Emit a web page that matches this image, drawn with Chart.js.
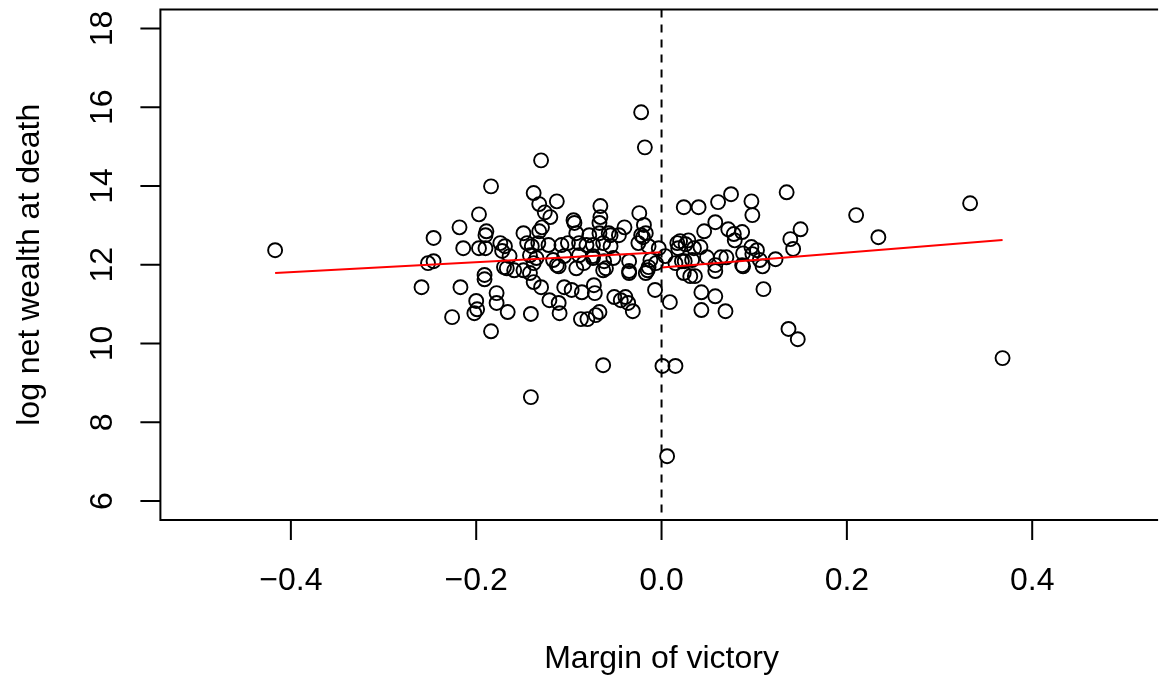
<!DOCTYPE html>
<html lang="en">
<head>
    <meta charset="UTF-8">
    <title>Margin of victory vs log net wealth at death</title>
    <script src="https://cdn.jsdelivr.net/npm/chart.js"></script>
    <style>
        html, body { margin: 0; padding: 0; overflow: hidden; background: #fff; }
        canvas { display: block; }
    </style>
</head>
<body>
    <canvas id="rdPlot" width="1165" height="675" style="width:1165px;height:675px"></canvas>

    <script>
        // scatter points (margin of victory, log net wealth at death)
        const marginX = [
            -0.417, 0.368, 0.333, 0.210, 0.234, -0.022, -0.018, -0.130, -0.184, -0.141,
            0.006, -0.063, 0.001, 0.015, 0.137, 0.147, -0.252, -0.246, -0.259, -0.217,
            -0.191, -0.191, -0.200, -0.199, -0.202, -0.178, -0.178, -0.166, -0.226, -0.184,
            -0.141, -0.197, -0.218, -0.189, -0.246, -0.214, -0.197, -0.190, -0.138, -0.132,
            -0.113, -0.126, -0.120, -0.129, -0.095, -0.094, -0.066, -0.066, -0.067, -0.024,
            -0.019, -0.040, -0.020, -0.055, 0.024, 0.040, 0.061, 0.075, 0.097, 0.098,
            0.135, 0.150, 0.139, 0.142, 0.058, 0.046, 0.072, 0.078, 0.087, 0.079,
            0.017, 0.026, 0.018, 0.035, 0.042, 0.049, 0.064, 0.070, 0.088, 0.097,
            0.103, 0.098, 0.106, 0.123, 0.087, 0.058, 0.025, -0.007, 0.009, 0.043,
            0.058, 0.043, 0.069, 0.110, 0.031, 0.036, 0.058, 0.088, 0.109, -0.014,
            0.015, -0.138, -0.130, -0.121, -0.111, -0.110, -0.105, -0.097, -0.086, -0.073,
            -0.072, -0.087, -0.080, -0.071, -0.067, -0.051, -0.044, -0.039, -0.036, -0.031,
            -0.138, -0.113, -0.084, -0.060, -0.035, -0.017, -0.170, -0.159, -0.149, -0.142,
            -0.190, -0.149, -0.132, -0.092, -0.078, -0.174, -0.169, -0.172, -0.145, -0.140,
            -0.133, -0.122, -0.108, -0.101, -0.089, -0.081, -0.164, -0.142, -0.135, -0.117,
            -0.105, -0.089, -0.074, -0.167, -0.111, -0.092, -0.067, -0.057, -0.046, -0.022,
            -0.017, 0.020, 0.029, -0.074, -0.063, -0.055, -0.025, -0.014, -0.003, -0.074,
            -0.062, -0.052, -0.035, -0.012, -0.006, 0.004, 0.022, 0.033, -0.063, -0.035,
            -0.015, 0.024
        ];
        const wealthY = [
            12.37, 9.63, 13.56, 13.26, 12.70, 15.87, 14.98, 14.65, 13.99, 8.64,
            7.14, 9.45, 9.43, 9.43, 10.37, 10.11, 12.04, 12.09, 11.43, 11.43,
            11.74, 11.63, 11.08, 10.87, 10.77, 11.28, 11.03, 10.80, 10.67, 10.31,
            10.75, 13.28, 12.95, 12.85, 12.68, 12.42, 12.42, 12.42, 13.82, 13.54,
            13.61, 13.33, 13.21, 12.95, 13.13, 13.06, 13.49, 13.21, 13.06, 13.31,
            13.01, 12.95, 12.70, 12.75, 13.46, 13.46, 13.59, 13.79, 13.61, 13.26,
            13.84, 12.90, 12.65, 12.40, 13.08, 12.85, 12.90, 12.78, 12.83, 12.62,
            12.55, 12.52, 12.42, 12.42, 12.45, 12.19, 12.19, 12.19, 12.29, 12.45,
            12.37, 12.27, 12.12, 12.14, 11.99, 11.99, 12.09, 11.36, 11.05, 11.30,
            11.20, 10.85, 10.82, 11.38, 11.71, 11.71, 11.84, 11.96, 11.96, 11.94,
            12.04, 11.56, 11.43, 11.10, 11.03, 10.77, 11.43, 11.36, 11.30, 11.48,
            11.28, 10.62, 10.62, 10.72, 10.80, 11.18, 11.10, 11.18, 11.03, 10.82,
            12.04, 11.99, 12.04, 11.91, 11.79, 11.79, 11.94, 11.86, 11.86, 11.79,
            12.75, 12.80, 12.85, 12.80, 12.75, 12.55, 12.47, 12.35, 12.55, 12.47,
            12.55, 12.50, 12.50, 12.55, 12.55, 12.50, 12.22, 12.24, 12.17, 12.12,
            12.22, 12.24, 12.22, 11.91, 11.96, 11.91, 12.80, 12.80, 12.75, 12.75,
            12.80, 12.60, 12.62, 12.50, 12.55, 12.47, 12.55, 12.47, 12.42, 12.17,
            12.09, 12.17, 12.09, 12.12, 12.04, 12.22, 12.09, 12.12, 11.86, 11.84,
            11.86, 11.79
        ];

        // linear fits on each side of the cutoff
        const leftFitX = [-0.417, 0];
        const leftFitY = [11.79, 12.32];
        const rightFitX = [0, 0.368];
        const rightFitY = [11.93, 12.63];

        // axis ticks
        const xTicks = [-0.4, -0.2, 0.0, 0.2, 0.4];
        const xTickLabels = ['\u22120.4', '\u22120.2', '0.0', '0.2', '0.4'];
        const yTicks = [6, 8, 10, 12, 14, 16, 18];
        const yTickLabels = ['6', '8', '10', '12', '14', '16', '18'];

        const FONT = '"Liberation Sans", Arial, Helvetica, sans-serif';

        const toPoints = (xs, ys) => xs.map((v, i) => ({ x: v, y: ys[i] }));

        // R-style box (right side runs off the page), axes and cutoff line
        const rAxes = {
            id: 'rAxes',
            afterDatasetsDraw(chart) {
                const { ctx, chartArea: a, scales: { x, y } } = chart;
                ctx.save();
                ctx.strokeStyle = '#000';
                ctx.fillStyle = '#000';

                // dashed line at the cutoff
                const x0 = x.getPixelForValue(0);
                ctx.lineWidth = 2;
                ctx.setLineDash([8, 7]);
                ctx.beginPath();
                ctx.moveTo(x0, a.top);
                ctx.lineTo(x0, a.bottom);
                ctx.stroke();
                ctx.setLineDash([]);

                // box: top, left, bottom
                ctx.lineWidth = 2;
                ctx.beginPath();
                ctx.moveTo(a.right + 2, a.top);
                ctx.lineTo(a.left, a.top);
                ctx.lineTo(a.left, a.bottom);
                ctx.lineTo(a.right + 2, a.bottom);
                ctx.stroke();

                ctx.font = '32px ' + FONT;
                const tickLen = 20;

                // x axis
                ctx.beginPath();
                xTicks.forEach(v => {
                    const px = x.getPixelForValue(v);
                    ctx.moveTo(px, a.bottom);
                    ctx.lineTo(px, a.bottom + tickLen);
                });
                ctx.stroke();
                ctx.textAlign = 'center';
                ctx.textBaseline = 'alphabetic';
                xTicks.forEach((v, i) => {
                    ctx.fillText(xTickLabels[i], x.getPixelForValue(v), a.bottom + 70);
                });

                // y axis
                ctx.beginPath();
                yTicks.forEach(v => {
                    const py = y.getPixelForValue(v);
                    ctx.moveTo(a.left, py);
                    ctx.lineTo(a.left - tickLen, py);
                });
                ctx.stroke();
                yTicks.forEach((v, i) => {
                    ctx.save();
                    ctx.translate(a.left - 48, y.getPixelForValue(v));
                    ctx.rotate(-Math.PI / 2);
                    ctx.fillText(yTickLabels[i], 0, 0);
                    ctx.restore();
                });

                // axis titles
                ctx.fillText('Margin of victory', x.getPixelForValue(0), 668);
                ctx.save();
                ctx.translate(39, (a.top + a.bottom) / 2);
                ctx.rotate(-Math.PI / 2);
                ctx.fillText('log net wealth at death', 0, 0);
                ctx.restore();

                ctx.restore();
            }
        };

        const ctx = document.getElementById('rdPlot').getContext('2d');
        new Chart(ctx, {
            type: 'scatter',
            data: {
                datasets: [
                    {
                        type: 'line',
                        data: toPoints(leftFitX, leftFitY),
                        borderColor: '#ff0000',
                        borderWidth: 2,
                        pointRadius: 0,
                        fill: false,
                        order: 1
                    },
                    {
                        type: 'line',
                        data: toPoints(rightFitX, rightFitY),
                        borderColor: '#ff0000',
                        borderWidth: 2,
                        pointRadius: 0,
                        fill: false,
                        order: 1
                    },
                    {
                        data: toPoints(marginX, wealthY),
                        pointRadius: 7,
                        pointBorderWidth: 1.9,
                        pointBorderColor: '#000',
                        pointBackgroundColor: 'rgba(0,0,0,0)',
                        order: 2
                    }
                ]
            },
            options: {
                responsive: false,
                animation: false,
                events: [],
                layout: { padding: { left: 160.4, right: 0, top: 9.5, bottom: 155 } },
                plugins: { legend: { display: false }, tooltip: { enabled: false } },
                scales: {
                    x: { type: 'linear', min: -0.5408, max: 0.5337, display: false },
                    y: { type: 'linear', min: 5.52, max: 18.48, display: false }
                }
            },
            plugins: [rAxes]
        });
    </script>
</body>
</html>
